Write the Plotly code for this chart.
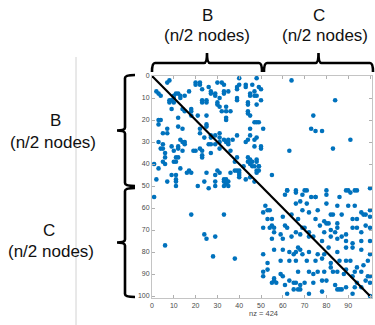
import plotly.graph_objects as go

# ---- data (row index, column index of each nonzero) ----
rows = [2,3,3,4,3,4,6,3,5,4,3,7,8,8,9,10,7,8,7,1,4,4,5,5,6,4,5,8,9,7,8,9,8,8,9,10,11,12,11,12,9,10,9,7,11,12,11,12,12,13,14,16,16,16,14,10,11,12,13,16,17,9,9,13,15,15,16,19,15,16,18,18,18,19,20,20,20,22,24,23,24,22,23,24,18,21,21,24,
        26,26,30,31,33,33,32,35,37,39,40,40,42,47,34,37,39,39,37,45,45,47,48,48,50,29,30,30,31,32,33,34,42,43,44,44,34,34,33,34,36,37,44,48,50,51,26,28,27,28,31,35,31,31,27,26,28,29,30,30,33,43,44,45,47,47,48,48,49,50,50,48,50,44,29,30,31,29,27,34,39,37,43,43,43,44,45,46,41,30,29,27,37,38,39,39,40,41,41,39,41,43,44,46,47,48,
        2,1,7,11,11,6,21,24,25,18,25,24,29,28,29,32,33,32,34,33,38,41,43,45,
        54,52,52,53,52,54,52,52,55,55,55,52,54,55,52,52,53,52,52,51,55,
        63,63,74,73,72,77,83,82,90,
        58,57,58,61,61,58,59,59,59,62,63,61,59,
        61,61,62,65,64,63,65,62,65,66,63,63,67,63,65,65,63,64,65,
        68,69,69,71,72,68,69,71,69,69,71,71,67,67,68,70,71,69,72,69,69,71,68,69,69,
        74,73,72,73,73,75,73,74,73,75,76,75,75,74,
        79,79,80,81,78,79,80,81,80,81,81,78,80,78,78,79,81,81,
        84,84,84,84,84,83,85,84,84,84,87,86,84,85,
        88,89,92,91,89,89,90,89,89,87,89,89,90,88,91,89,89,91,91,91,
        93,94,95,93,94,94,95,94,94,93,93,95,97,97,97,96,96,94,96,93,94,94,
        99,97,97,97,99,98,99,100,97]
cols = [8,7,20,20,22,22,23,30,26,33,32,27,27,29,29,31,33,33,35,40,40,43,43,39,39,46,49,45,45,2,3,4,11,12,10,10,8,8,9,10,13,13,15,17,23,23,25,25,30,30,31,32,34,36,34,39,39,44,44,44,44,47,48,48,9,14,15,12,18,18,18,21,25,34,34,3,4,3,7,12,14,25,25,22,45,47,49,45,
        5,7,3,5,4,5,9,6,6,5,6,1,3,2,10,11,10,11,12,9,11,11,11,7,11,13,14,15,15,12,12,14,13,17,18,16,20,19,22,23,23,23,25,24,21,26,22,24,27,27,26,27,27,29,29,31,31,33,34,31,31,30,31,29,33,34,33,35,34,33,35,29,29,36,35,35,35,37,39,36,38,39,38,39,40,40,40,40,42,43,44,45,44,45,44,46,45,46,47,48,49,48,48,45,43,
        47,64,48,47,50,84,50,48,51,75,74,78,73,91,48,47,47,50,50,63,83,48,49,49,
        55,61,62,62,66,66,69,71,70,73,75,75,80,80,86,89,90,91,93,94,100,
        1,33,18,25,29,24,6,38,28,
        59,66,68,71,69,76,80,85,90,93,96,98,100,
        52,54,53,51,55,60,64,67,72,75,79,82,83,85,87,92,94,97,100,
        53,55,56,54,56,59,61,62,66,69,70,72,79,80,81,77,82,84,85,89,92,94,96,98,100,
        51,60,64,68,72,74,78,82,85,87,89,92,96,100,
        55,56,60,63,65,67,68,66,69,72,76,79,81,85,89,92,96,100,
        51,59,63,66,71,75,78,82,86,89,91,94,97,99,
        53,53,51,56,60,67,72,74,76,79,82,83,85,88,89,92,93,96,99,100,
        51,56,57,61,63,65,66,68,70,74,78,80,84,85,86,87,89,93,94,96,98,100,
        55,62,65,67,68,72,78,92,100]
n_size = 100
x_ticks = list(range(0, 101, 10))
y_ticks = list(range(0, 101, 10))
nz_text = "nz = 424"
block_titles = ["B", "C"]
block_sub = "(n/2 nodes)"

W, H = 375, 325
def PX(x):
    return x / W
def PY(y):
    return 1 - y / H

fig = go.Figure()
fig.add_trace(go.Scatter(x=cols, y=rows, mode="markers",
                         marker=dict(color="#0072BD", size=4.6, line=dict(width=0)),
                         hoverinfo="skip"))
fig.add_trace(go.Scatter(x=[0, n_size], y=[0, n_size], mode="lines",
                         line=dict(color="black", width=2.2), hoverinfo="skip"))

axis_common = dict(showgrid=False, zeroline=False, showline=True, linecolor="#c4c4c4",
                   linewidth=1, mirror="ticks", ticks="inside", ticklen=3, tickcolor="#b0b0b0",
                   tickfont=dict(size=7, color="#4a4a4a", family="Liberation Sans"),
                   automargin=False, fixedrange=True)

fig.update_layout(
    width=W, height=H, margin=dict(l=0, r=0, t=0, b=0),
    paper_bgcolor="white", plot_bgcolor="white", showlegend=False,
    xaxis=dict(domain=[PX(152), PX(372.2)], range=[0, 101], tickvals=x_ticks, **axis_common),
    yaxis=dict(domain=[PY(298.2), PY(76)], range=[101, 0], tickvals=y_ticks, **axis_common),
)

def to_path(pts):
    s = []
    for p in pts:
        c = p[0]
        nums = p[1:]
        coords = []
        for i in range(0, len(nums), 2):
            coords.append(f"{PX(nums[i]):.5f},{PY(nums[i+1]):.5f}")
        s.append(c + " " + " ".join(coords))
    return " ".join(s)

def hbrace(x1, x2, yl, hook, tick, r=3):
    xm = (x1 + x2) / 2
    pts = [("M", x1, yl + hook), ("Q", x1, yl, x1 + r, yl), ("L", xm - r, yl),
           ("Q", xm, yl, xm, yl - tick), ("M", xm, yl - tick), ("Q", xm, yl, xm + r, yl),
           ("L", x2 - r, yl), ("Q", x2, yl, x2, yl + hook)]
    return to_path(pts)

def vbrace(y1, y2, xl, hook, tick, r=3):
    ym = (y1 + y2) / 2
    pts = [("M", xl + hook, y1), ("Q", xl, y1, xl, y1 + r), ("L", xl, ym - r),
           ("Q", xl, ym, xl - tick, ym), ("M", xl - tick, ym), ("Q", xl, ym, xl, ym + r),
           ("L", xl, y2 - r), ("Q", xl, y2, xl + hook, y2)]
    return to_path(pts)

shapes = []
brace_line = dict(color="black", width=2.6)
shapes.append(dict(type="path", xref="paper", yref="paper", path=hbrace(152, 262, 63, 9, 10), line=brace_line))
shapes.append(dict(type="path", xref="paper", yref="paper", path=hbrace(264, 373, 63, 9, 10), line=brace_line))
shapes.append(dict(type="path", xref="paper", yref="paper", path=vbrace(75, 186, 125, 10, 8), line=brace_line))
shapes.append(dict(type="path", xref="paper", yref="paper", path=vbrace(188, 297, 125, 10, 8), line=brace_line))
shapes.append(dict(type="line", xref="paper", yref="paper", x0=PX(76), x1=PX(76), y0=PY(57), y1=PY(325),
                   line=dict(color="#d2d2d2", width=1)))
fig.update_layout(shapes=shapes)

font_big = dict(size=17, color="#111111", family="Liberation Sans")
ann = []
def txt(x, y, t, f=font_big):
    ann.append(dict(x=PX(x), y=PY(y), xref="paper", yref="paper", text=t, showarrow=False,
                    xanchor="center", yanchor="middle", font=f))
txt(207, 15, block_titles[0]); txt(207, 35, block_sub)
txt(319, 15, block_titles[1]); txt(325, 35, block_sub)
txt(55, 121, block_titles[0]); txt(53, 142, block_sub)
txt(49, 230, block_titles[1]); txt(51, 251, block_sub)
txt(263, 313, nz_text, dict(size=7.5, color="#4a4a4a", family="Liberation Sans"))
fig.update_layout(annotations=ann)

fig.write_html("out.html", config={"displayModeBar": False, "staticPlot": True},
               post_script="document.body.style.margin='0px';document.body.style.overflow='hidden';")
